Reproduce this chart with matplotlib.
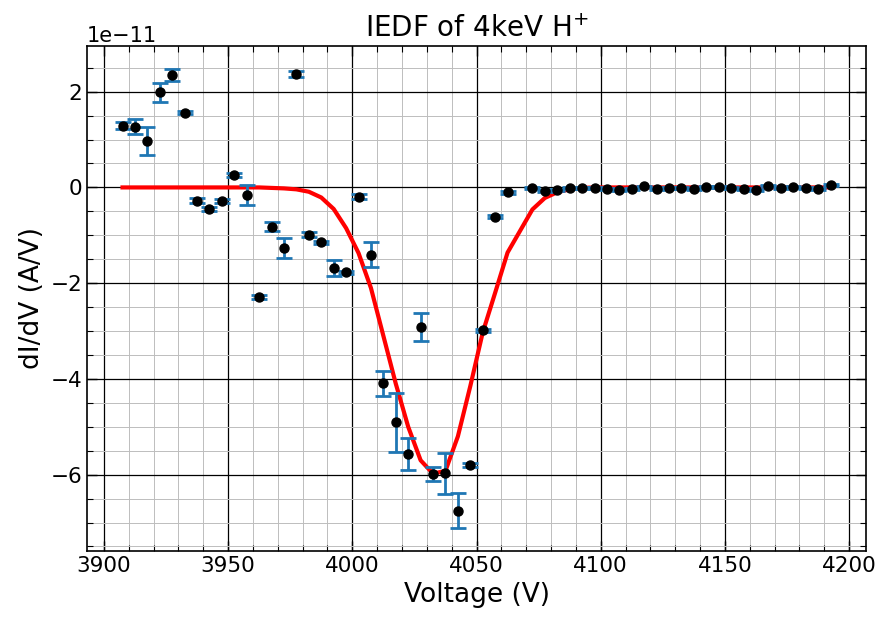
import numpy as np
import matplotlib
matplotlib.use("Agg")
import matplotlib.pyplot as plt

# measured points (V), dI/dV in units of 1e-11 A/V
voltage = [3907.5, 3912.5, 3917.5, 3922.5, 3927.5, 3932.5, 3937.5, 3942.5,
           3947.5, 3952.5, 3957.5, 3962.5, 3967.5, 3972.5, 3977.5, 3982.5,
           3987.5, 3992.5, 3997.5, 4002.5, 4007.5, 4012.5, 4017.5, 4022.5,
           4027.5, 4032.5, 4037.5, 4042.5, 4047.5, 4052.5, 4057.5, 4062.5,
           4072.5, 4077.5, 4082.5, 4087.5, 4092.5, 4097.5, 4102.5, 4107.5,
           4112.5, 4117.5, 4122.5, 4127.5, 4132.5, 4137.5, 4142.5, 4147.5,
           4152.5, 4157.5, 4162.5, 4167.5, 4172.5, 4177.5, 4182.5, 4187.5,
           4192.5]
didv = [1.29, 1.27, 0.97, 1.99, 2.35, 1.56, -0.28, -0.45,
        -0.29, 0.26, -0.15, -2.29, -0.82, -1.27, 2.37, -0.99,
        -1.15, -1.68, -1.77, -0.19, -1.41, -4.09, -4.91, -5.57,
        -2.92, -5.99, -5.97, -6.75, -5.80, -2.98, -0.61, -0.10,
        -0.01, -0.08, -0.06, -0.02, -0.01, -0.01, -0.04, -0.05,
        -0.03, 0.02, -0.03, -0.02, -0.01, -0.03, 0.00, 0.00,
        -0.01, -0.03, -0.06, 0.04, -0.01, 0.00, -0.01, -0.04,
        0.05]
didv_err = [0.07, 0.15, 0.30, 0.20, 0.13, 0.03, 0.05, 0.04,
            0.04, 0.04, 0.21, 0.04, 0.10, 0.21, 0.07, 0.05,
            0.04, 0.17, 0.03, 0.05, 0.26, 0.26, 0.62, 0.34,
            0.29, 0.14, 0.43, 0.37, 0.04, 0.03, 0.03, 0.03,
            0.02, 0.02, 0.02, 0.02, 0.02, 0.02, 0.02, 0.02,
            0.02, 0.02, 0.02, 0.02, 0.02, 0.02, 0.02, 0.02,
            0.02, 0.02, 0.02, 0.02, 0.02, 0.02, 0.02, 0.02,
            0.02]
# fitted curve, read at the same voltages
fit = [0.0, 0.0, 0.0, 0.0, 0.0, 0.0, 0.0, 0.0,
       0.0, 0.0, 0.0, 0.0, -0.01, -0.02, -0.04, -0.09,
       -0.21, -0.45, -0.85, -1.37, -2.1, -3.1, -4.1, -5.0,
       -5.7, -5.98, -5.92, -5.2, -4.15, -3.03, -2.2, -1.36,
       -0.46, -0.22, -0.1, -0.04, -0.01, 0.0, 0.0, 0.0,
       0.0, 0.0, 0.0, 0.0, 0.0, 0.0, 0.0, 0.0,
       0.0, 0.0, 0.0, 0.0, 0.0, 0.0, 0.0, 0.0,
       0.0]

scale = 1e-11

plt.rcParams['font.size'] = 15.5

fig = plt.figure(figsize=(8.8, 6.18), dpi=100)
ax = fig.add_subplot(111)
fig.subplots_adjust(left=0.099, right=0.984, top=0.926, bottom=0.108)

v = np.array(voltage)
ax.plot(v, np.array(fit) * scale, color='red', lw=3, zorder=2)
ax.errorbar(v, np.array(didv) * scale, yerr=np.array(didv_err) * scale,
            fmt='o', color='black', markersize=6.5, ecolor='tab:blue',
            elinewidth=2, capsize=6, capthick=2, zorder=3)

ax.set_title('IEDF of 4keV H$^{+}$', fontsize=20)
ax.set_xlabel('Voltage (V)', fontsize=19)
ax.set_ylabel('dI/dV (A/V)', fontsize=19)

ax.minorticks_on()
ax.tick_params(which='both', direction='in', top=True, right=True)
ax.tick_params(which='major', length=7, width=1)
ax.tick_params(which='minor', length=4, width=0.8)
ax.grid(which='major', color='black', lw=0.9)
ax.grid(which='minor', color='#bdbdbd', lw=0.7)
ax.set_axisbelow(True)
ax.yaxis.get_offset_text().set_fontsize(15)
for s in ax.spines.values():
    s.set_linewidth(1.2)

fig.savefig('out.png', dpi=100)
